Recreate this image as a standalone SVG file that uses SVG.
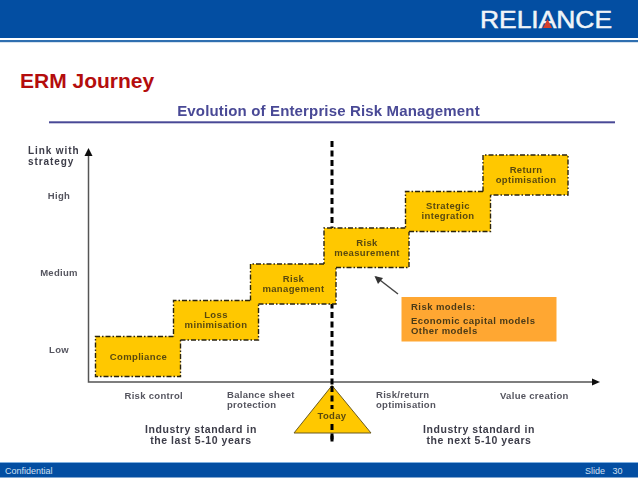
<svg xmlns="http://www.w3.org/2000/svg" width="638" height="479" viewBox="0 0 638 479">
<style>
text{font-family:"Liberation Sans",Arial,sans-serif}
.box{fill:#ffc800}
.edge{fill:none;stroke:#2a2410;stroke-width:1.4;stroke-dasharray:5 2 1.5 2}
.bl{font-size:9.5px;font-weight:bold;fill:#5a4a10;text-anchor:middle;letter-spacing:.35px}
.ax{font-size:9.5px;font-weight:bold;fill:#55555f;letter-spacing:.3px}
.link{font-size:10px;font-weight:bold;fill:#3c3c48;letter-spacing:.9px}
.std{font-size:10.5px;font-weight:bold;fill:#3c3c48;text-anchor:middle;letter-spacing:.55px}
.rm{font-size:9.5px;font-weight:bold;fill:#4a3a18;letter-spacing:.45px}
.foot{font-size:9px;fill:#cfe0f2}
.dash{fill:none;stroke:#000;stroke-width:3;stroke-dasharray:6 3.5}
</style>
<defs><filter id="soft" x="-5%" y="-5%" width="110%" height="110%"><feGaussianBlur stdDeviation="0.35"/></filter></defs>
<rect width="638" height="479" fill="#fff"/>
<g id="header">
<rect width="638" height="38" fill="#034ea2"/>
<rect y="40" width="638" height="2.2" fill="#2f6fb0"/>
<text x="480" y="28" font-size="24" fill="#f0f4f8" stroke="#f0f4f8" stroke-width=".5" textLength="132" lengthAdjust="spacingAndGlyphs">RELIANCE</text>
<polygon points="543,28 552,28 547.500,19" fill="#d8402c"/>
</g>
<text id="title" x="20" y="88" font-size="21" font-weight="bold" fill="#b40d0d">ERM Journey</text>
<g filter="url(#soft)">
<text id="subtitle" x="328.500" y="116" font-size="15" font-weight="bold" fill="#4a4a96" text-anchor="middle" letter-spacing=".15">Evolution of Enterprise Risk Management</text>
<rect x="49" y="121.300" width="566" height="2" fill="#4a4a96"/>
<g id="connectors">
<path d="M88.500 153V382H594" fill="none" stroke="#555" stroke-width="1.500"/>
<polygon points="88.500,148 84.500,156 92.500,156" fill="#111"/>
<polygon points="600,382 592,378.500 592,385.500" fill="#111"/>
<path class="dash" d="M332 141V442"/>
<path d="M398 294L376 277" fill="none" stroke="#444" stroke-width="1.500"/>
<polygon points="374.500,276 383,278 378,284" fill="#333"/>
</g>
<g id="axis-labels">
<text class="link" x="28" y="154">Link with</text>
<text class="link" x="28" y="164.500">strategy</text>
<text class="ax" x="59" y="198.500" text-anchor="middle">High</text>
<text class="ax" x="59" y="275.500" text-anchor="middle">Medium</text>
<text class="ax" x="59" y="353" text-anchor="middle">Low</text>
<text class="ax" x="124.500" y="398.500">Risk control</text>
<text class="ax" x="227" y="397.500">Balance sheet</text>
<text class="ax" x="227" y="407.500">protection</text>
<text class="ax" x="376" y="397.500">Risk/return</text>
<text class="ax" x="376" y="407.500">optimisation</text>
<text class="ax" x="500" y="398.500">Value creation</text>
</g>
<g id="node-compliance"><rect class="box" x="95.500" y="336.500" width="85" height="40"/><path class="edge" d="M173.500 336.500H95.500V376.500H180.500V340"/><text class="bl" x="138.500" y="359.500">Compliance</text></g>
<g id="node-loss"><rect class="box" x="173.500" y="300.500" width="85" height="39.500"/><path class="edge" d="M250 300.500H173.500V336.500M180.500 340H258.500V304"/><text class="bl" x="216" y="318">Loss</text><text class="bl" x="216" y="328">minimisation</text></g>
<g id="node-management"><rect class="box" x="250.500" y="264" width="85.500" height="40"/><path class="edge" d="M324 264H250.500V300.500M258.500 304H336V267"/><text class="bl" x="293.500" y="282">Risk</text><text class="bl" x="293.500" y="292">management</text></g>
<g id="node-measurement"><rect class="box" x="324" y="228" width="85" height="39.500"/><path class="edge" d="M405.500 228H324V264M336 267.500H409V231.500"/><text class="bl" x="367" y="245.500">Risk</text><text class="bl" x="367" y="255.500">measurement</text></g>
<g id="node-strategic"><rect class="box" x="405.500" y="191.500" width="85" height="40"/><path class="edge" d="M483 191.500H405.500V228M409 231.500H490.500V195"/><text class="bl" x="448" y="209">Strategic</text><text class="bl" x="448" y="219">integration</text></g>
<g id="node-return"><rect class="box" x="483" y="155" width="85" height="40"/><path class="edge" d="M483 191.500V155H568V195H490.500"/><text class="bl" x="526" y="173">Return</text><text class="bl" x="526" y="183">optimisation</text></g>
<g id="node-risk-models"><rect x="401.500" y="297" width="155" height="44.500" fill="#ffa733"/>
<text class="rm" x="411" y="310">Risk models:</text>
<text class="rm" x="411" y="324">Economic capital models</text>
<text class="rm" x="411" y="334">Other models</text></g>
<g id="node-today"><polygon points="332,385.500 294,433 371,433" fill="#ffc800" stroke="#6b5a20" stroke-width="1"/>
<path class="dash" d="M332 386V440"/>
<rect x="316" y="409" width="32" height="12" fill="#ffc800"/>
<text x="332" y="418.500" class="bl">Today</text></g>
<g id="industry-labels">
<text class="std" x="201" y="433">Industry standard in</text>
<text class="std" x="201" y="444">the last 5-10 years</text>
<text class="std" x="479" y="433">Industry standard in</text>
<text class="std" x="479" y="444">the next 5-10 years</text>
</g>
</g>
<g id="footer">
<rect y="462" width="638" height="1" fill="#7fb0e0"/>
<rect y="463" width="638" height="14.500" fill="#034ea2"/>
<text class="foot" x="5" y="473.500">Confidential</text>
<text class="foot" x="585" y="473.500">Slide</text>
<text class="foot" x="612.500" y="473.500">30</text>
</g>
</svg>
